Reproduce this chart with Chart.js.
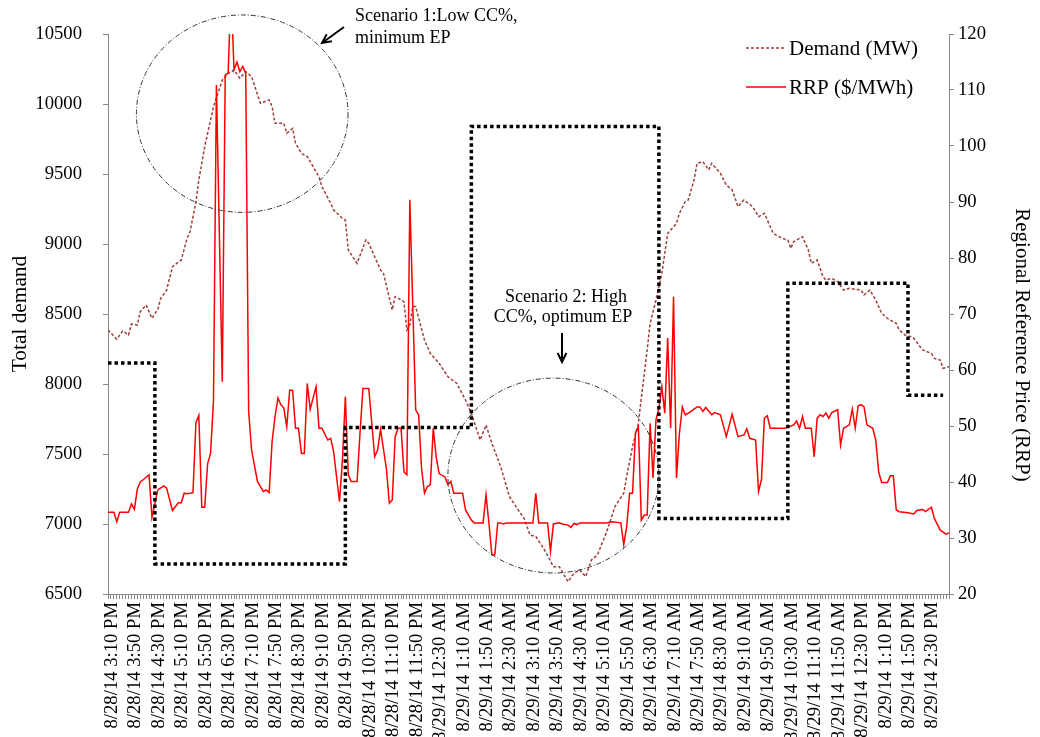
<!DOCTYPE html>
<html>
<head>
<meta charset="utf-8">
<script src="https://cdn.jsdelivr.net/npm/chart.js@4.4.1/dist/chart.umd.min.js"></script>
<style>
    html, body { margin: 0; padding: 0; background: #fff; }
</style>
</head>
<body>
<canvas id="demandPriceChart" width="1040" height="737"></canvas>
<script>
// x = 5-minute interval index, 0 = 8/28/14 3:10 PM, one label every 8 intervals
const tickLabels = [
    "8/28/14 3:10 PM", "8/28/14 3:50 PM", "8/28/14 4:30 PM", "8/28/14 5:10 PM",
    "8/28/14 5:50 PM", "8/28/14 6:30 PM", "8/28/14 7:10 PM", "8/28/14 7:50 PM",
    "8/28/14 8:30 PM", "8/28/14 9:10 PM", "8/28/14 9:50 PM", "8/28/14 10:30 PM",
    "8/28/14 11:10 PM", "8/28/14 11:50 PM", "8/29/14 12:30 AM", "8/29/14 1:10 AM",
    "8/29/14 1:50 AM", "8/29/14 2:30 AM", "8/29/14 3:10 AM", "8/29/14 3:50 AM",
    "8/29/14 4:30 AM", "8/29/14 5:10 AM", "8/29/14 5:50 AM", "8/29/14 6:30 AM",
    "8/29/14 7:10 AM", "8/29/14 7:50 AM", "8/29/14 8:30 AM", "8/29/14 9:10 AM",
    "8/29/14 9:50 AM", "8/29/14 10:30 AM", "8/29/14 11:10 AM", "8/29/14 11:50 AM",
    "8/29/14 12:30 PM", "8/29/14 1:10 PM", "8/29/14 1:50 PM", "8/29/14 2:30 PM",
];
const lastIndex = 287;

// Demand (MW), left axis
const demandX = [0, 3, 5, 7, 8, 10, 11, 13, 15, 17, 18, 20, 22, 25, 27, 28, 30, 31, 33, 36,
    39, 41, 43, 45, 47, 49, 52, 55, 56, 57, 60, 61, 63, 64, 66, 68, 70, 72, 73, 76,
    77, 80, 81, 82, 85, 88, 89, 93, 94, 97, 98, 101, 102, 103, 104, 105, 108, 110, 113, 116,
    119, 122, 124, 127, 129, 131, 134, 137, 140, 142, 144, 146, 149, 152, 154, 157, 159, 161, 163, 165,
    167, 170, 173, 176, 177, 179, 181, 182, 184, 185, 187, 189, 191, 193, 194, 195, 197, 198, 200, 201,
    203, 205, 206, 209, 211, 213, 215, 217, 220, 222, 224, 225, 227, 230, 232, 233, 234, 237, 239, 240,
    242, 244, 245, 247, 249, 251, 253, 257, 258, 260, 262, 264, 266, 269, 270, 272, 274, 275, 278, 281,
    282, 284, 285, 287];
const demandY = [8386, 8320, 8379, 8350, 8429, 8421, 8516, 8564, 8469, 8534, 8612, 8671, 8838, 8886, 9041, 9088, 9300, 9457, 9695, 9981,
    10171, 10219, 10243, 10184, 10231, 10195, 10005, 10029, 9981, 9862, 9862, 9791, 9826, 9719, 9648, 9624, 9552, 9481, 9410, 9290,
    9243, 9184, 9171, 8957, 8862, 9029, 9005, 8814, 8791, 8529, 8624, 8588, 8386, 8421, 8553, 8553, 8314, 8219, 8148, 8052,
    8005, 7886, 7790, 7600, 7707, 7576, 7410, 7195, 7100, 7041, 6921, 6910, 6814, 6695, 6695, 6588, 6648, 6671, 6624, 6743,
    6779, 6933, 7124, 7219, 7338, 7552, 7719, 7900, 8243, 8433, 8600, 8790, 9076, 9124, 9148, 9219, 9302, 9314, 9457, 9576,
    9588, 9529, 9576, 9505, 9421, 9386, 9267, 9314, 9267, 9195, 9219, 9171, 9076, 9041, 9029, 8969, 9017, 9052, 8957, 8862,
    8886, 8767, 8743, 8755, 8731, 8671, 8683, 8671, 8636, 8671, 8600, 8505, 8469, 8433, 8386, 8350, 8338, 8326, 8243, 8219,
    8183, 8171, 8112, 8124];

// RRP ($/MWh), right axis
const rrpX = [0, 2, 3, 4, 7, 8, 9, 10, 11, 12, 14, 15, 16, 17, 19, 20, 22, 24, 25, 26,
    27, 29, 30, 31, 32, 33, 34, 35, 36, 37, 39, 40, 41, 42, 43, 44, 45, 46, 47, 48,
    49, 51, 53, 54, 55, 56, 57, 58, 59, 60, 61, 62, 63, 64, 65, 66, 67, 68, 69, 71,
    72, 73, 75, 76, 77, 79, 80, 81, 82, 83, 85, 86, 87, 89, 91, 92, 93, 95, 96, 97,
    98, 99, 100, 101, 102, 103, 105, 106, 107, 108, 109, 110, 111, 112, 113, 115, 116, 117, 118, 121,
    122, 124, 125, 128, 129, 130, 131, 132, 133, 134, 135, 136, 145, 146, 147, 150, 151, 152, 154, 155,
    157, 158, 159, 160, 161, 170, 172, 175, 176, 177, 178, 179, 180, 181, 182, 183, 184, 185, 186, 187,
    188, 189, 190, 191, 192, 193, 194, 195, 196, 197, 199, 200, 201, 202, 203, 204, 206, 207, 209, 211,
    213, 215, 217, 218, 219, 221, 222, 223, 224, 225, 226, 231, 234, 235, 236, 237, 238, 240, 241, 242,
    243, 244, 245, 246, 247, 249, 250, 251, 253, 254, 255, 256, 257, 258, 259, 261, 262, 263, 264, 266,
    267, 268, 269, 270, 273, 275, 276, 278, 279, 281, 282, 284, 286, 287];
const rrpY = [34.6, 34.6, 32.9, 34.6, 34.6, 36.1, 35.1, 38.7, 40.0, 40.4, 41.3, 33.7, 36.2, 38.6, 39.3, 38.9, 34.9, 36.3, 36.3, 38.0,
    37.9, 38.1, 50.6, 51.9, 35.5, 35.5, 43.3, 45.1, 54.6, 110.9, 57.9, 112.7, 113.0, 128.0, 113.6, 115.0, 113.3, 114.2, 113.0, 52.6,
    45.7, 40.1, 38.3, 38.6, 38.1, 47.2, 51.7, 55.0, 53.8, 53.2, 49.9, 56.4, 56.4, 49.6, 49.6, 45.1, 45.1, 57.6, 53.0, 57.0,
    49.6, 49.6, 47.5, 47.8, 45.4, 36.5, 43.9, 55.2, 41.3, 40.1, 40.1, 48.7, 56.7, 56.7, 44.5, 45.7, 49.4, 42.4, 36.2, 36.8,
    48.1, 49.6, 49.6, 41.8, 41.3, 90.4, 52.9, 52.0, 42.4, 38.0, 39.2, 39.5, 49.6, 44.5, 41.5, 40.9, 39.5, 40.1, 38.0, 38.0,
    35.0, 33.2, 32.7, 32.7, 37.7, 32.6, 27.0, 27.0, 32.7, 32.7, 32.5, 32.7, 32.7, 38.0, 32.7, 32.7, 27.6, 32.5, 32.7, 32.5,
    32.3, 31.9, 32.6, 32.4, 32.7, 32.7, 32.9, 32.7, 28.8, 32.0, 38.0, 38.0, 48.7, 49.9, 33.2, 34.1, 34.1, 50.5, 40.7, 51.1,
    53.2, 57.0, 52.3, 65.7, 49.6, 73.1, 40.7, 48.7, 53.4, 52.0, 52.6, 53.0, 53.4, 53.4, 52.6, 53.3, 52.0, 52.4, 52.0, 48.1,
    52.1, 48.1, 48.4, 49.5, 47.8, 47.5, 38.3, 40.4, 51.4, 51.8, 49.6, 49.6, 50.2, 50.9, 49.6, 51.7, 49.6, 49.6, 44.5, 51.4,
    52.0, 51.7, 52.3, 51.4, 52.4, 52.9, 46.6, 49.6, 50.2, 53.0, 49.6, 53.6, 53.8, 53.4, 50.2, 49.6, 47.5, 41.8, 39.9, 39.9,
    41.1, 41.1, 35.0, 34.7, 34.5, 34.3, 34.9, 35.1, 34.7, 35.5, 33.5, 31.4, 30.7, 30.9];

// Dotted step series (left axis): start index of each level, and the level
const stepX = [0, 16, 81, 124, 188, 232, 273, 285];
const stepY = [8150, 6715, 7690, 9840, 7040, 8720, 7920, 7920];

// Annotation ellipses: centre (index, MW) and radii (index, MW)
const scenarioCircles = [
    { idx: 45.8, value: 9931, rIdx: 36.1, rValue: 705 },
    { idx: 152, value: 7346, rIdx: 36, rValue: 696 },
];

const serif = "'Liberation Serif', 'Times New Roman', serif";
const demandColor = "#9e3f3c";
const rrpColor = "#ff0000";

function pairs(xs, ys) {
    return xs.map((x, i) => ({ x: x, y: ys[i] }));
}

function drawArrow(ctx, x1, y1, x2, y2) {
    const a = Math.atan2(y2 - y1, x2 - x1);
    const h = 10;
    ctx.beginPath();
    ctx.moveTo(x1, y1);
    ctx.lineTo(x2, y2);
    ctx.moveTo(x2 - h * Math.cos(a - 0.45), y2 - h * Math.sin(a - 0.45));
    ctx.lineTo(x2, y2);
    ctx.lineTo(x2 - h * Math.cos(a + 0.45), y2 - h * Math.sin(a + 0.45));
    ctx.stroke();
}

const notesPlugin = {
    id: "scenarioNotes",
    afterDatasetsDraw(chart) {
        const ctx = chart.ctx;
        const xs = chart.scales.x;
        const ys = chart.scales.y;
        ctx.save();

        // dash-dot ellipses
        ctx.lineWidth = 1;
        ctx.strokeStyle = "#333";
        ctx.setLineDash([5, 2, 1, 2]);
        scenarioCircles.forEach((c) => {
            const cx = xs.getPixelForValue(c.idx);
            const cy = ys.getPixelForValue(c.value);
            const rx = xs.getPixelForValue(c.idx + c.rIdx) - cx;
            const ry = ys.getPixelForValue(c.value - c.rValue) - cy;
            ctx.beginPath();
            ctx.ellipse(cx, cy, rx, ry, 0, 0, Math.PI * 2);
            ctx.stroke();
        });
        ctx.setLineDash([]);

        // scenario labels
        ctx.fillStyle = "#000";
        ctx.font = "18px " + serif;
        ctx.textBaseline = "alphabetic";
        ctx.textAlign = "left";
        ctx.fillText("Scenario 1:Low CC%,", 355, 21);
        ctx.fillText("minimum EP", 355, 43);
        ctx.textAlign = "center";
        ctx.fillText("Scenario 2: High", 566, 302);
        ctx.fillText("CC%, optimum EP", 563, 322);

        ctx.strokeStyle = "#000";
        ctx.lineWidth = 2;
        drawArrow(ctx, 344, 27, 322, 43);
        drawArrow(ctx, 562, 333, 562, 362);

        // legend
        ctx.lineWidth = 1.5;
        ctx.strokeStyle = demandColor;
        ctx.setLineDash([3, 2]);
        ctx.beginPath();
        ctx.moveTo(746, 48);
        ctx.lineTo(786, 48);
        ctx.stroke();
        ctx.setLineDash([]);
        ctx.strokeStyle = rrpColor;
        ctx.beginPath();
        ctx.moveTo(746, 87);
        ctx.lineTo(786, 87);
        ctx.stroke();
        ctx.font = "21px " + serif;
        ctx.textAlign = "left";
        ctx.textBaseline = "middle";
        ctx.fillText("Demand (MW)", 789, 49);
        ctx.fillText("RRP ($/MWh)", 789, 88);

        // right axis title (sits a little below the axis middle)
        ctx.translate(1022, 345);
        ctx.rotate(Math.PI / 2);
        ctx.textAlign = "center";
        ctx.font = "21px " + serif;
        ctx.fillText("Regional Reference Price (RRP)", 0, 0);
        ctx.restore();
    },
};

Chart.defaults.font.family = serif;
Chart.defaults.color = "#000";

new Chart(document.getElementById("demandPriceChart").getContext("2d"), {
    type: "line",
    data: {
        datasets: [
            {
                label: "Scenario",
                data: pairs(stepX, stepY),
                yAxisID: "y",
                stepped: "before",
                borderColor: "#000",
                borderWidth: 3.5,
                borderDash: [3.5, 3],
                borderCapStyle: "butt",
                pointRadius: 0,
                order: 1,
            },
            {
                label: "Demand (MW)",
                data: pairs(demandX, demandY),
                yAxisID: "y",
                borderColor: demandColor,
                borderWidth: 1.5,
                borderDash: [3, 2],
                pointRadius: 0,
                order: 3,
            },
            {
                label: "RRP ($/MWh)",
                data: pairs(rrpX, rrpY),
                yAxisID: "y1",
                borderColor: rrpColor,
                borderWidth: 1.5,
                pointRadius: 0,
                order: 2,
            },
        ],
    },
    options: {
        responsive: false,
        animation: false,
        layout: { padding: { top: 34, left: 0, right: 0, bottom: 0 } },
        plugins: {
            legend: { display: false },
            tooltip: { enabled: false },
        },
        scales: {
            x: {
                type: "linear",
                min: 0,
                max: lastIndex,
                afterBuildTicks: (scale) => {
                    const t = [];
                    for (let i = 0; i <= lastIndex; i++) t.push({ value: i });
                    scale.ticks = t;
                },
                afterFit: (scale) => { scale.height = 143; },
                ticks: {
                    autoSkip: false,
                    minRotation: 90,
                    maxRotation: 90,
                    padding: 3,
                    labelOffset: 4,
                    font: { size: 18.67 },
                    callback: (v) => (v % 8 === 0 ? tickLabels[v / 8] : ""),
                },
                grid: { drawOnChartArea: false, tickLength: 5, color: "#888" },
                border: { color: "#888" },
            },
            y: {
                position: "left",
                min: 6500,
                max: 10500,
                afterFit: (scale) => { scale.width = 108; },
                ticks: {
                    stepSize: 500,
                    padding: 21,
                    font: { size: 18.67 },
                    callback: (v) => String(v),
                },
                grid: { drawOnChartArea: false, tickLength: 5, color: "#888" },
                border: { color: "#888" },
                title: {
                    display: true,
                    text: "Total demand",
                    font: { size: 21.33 },
                    padding: { top: 8, bottom: 0 },
                },
            },
            y1: {
                position: "right",
                min: 20,
                max: 120,
                afterFit: (scale) => { scale.width = 91; },
                ticks: {
                    stepSize: 10,
                    padding: 4,
                    font: { size: 18.67 },
                    callback: (v) => String(v),
                },
                grid: { drawOnChartArea: false, tickLength: 5, color: "#888" },
                border: { color: "#888" },
            },
        },
    },
    plugins: [notesPlugin],
});
</script>
</body>
</html>
